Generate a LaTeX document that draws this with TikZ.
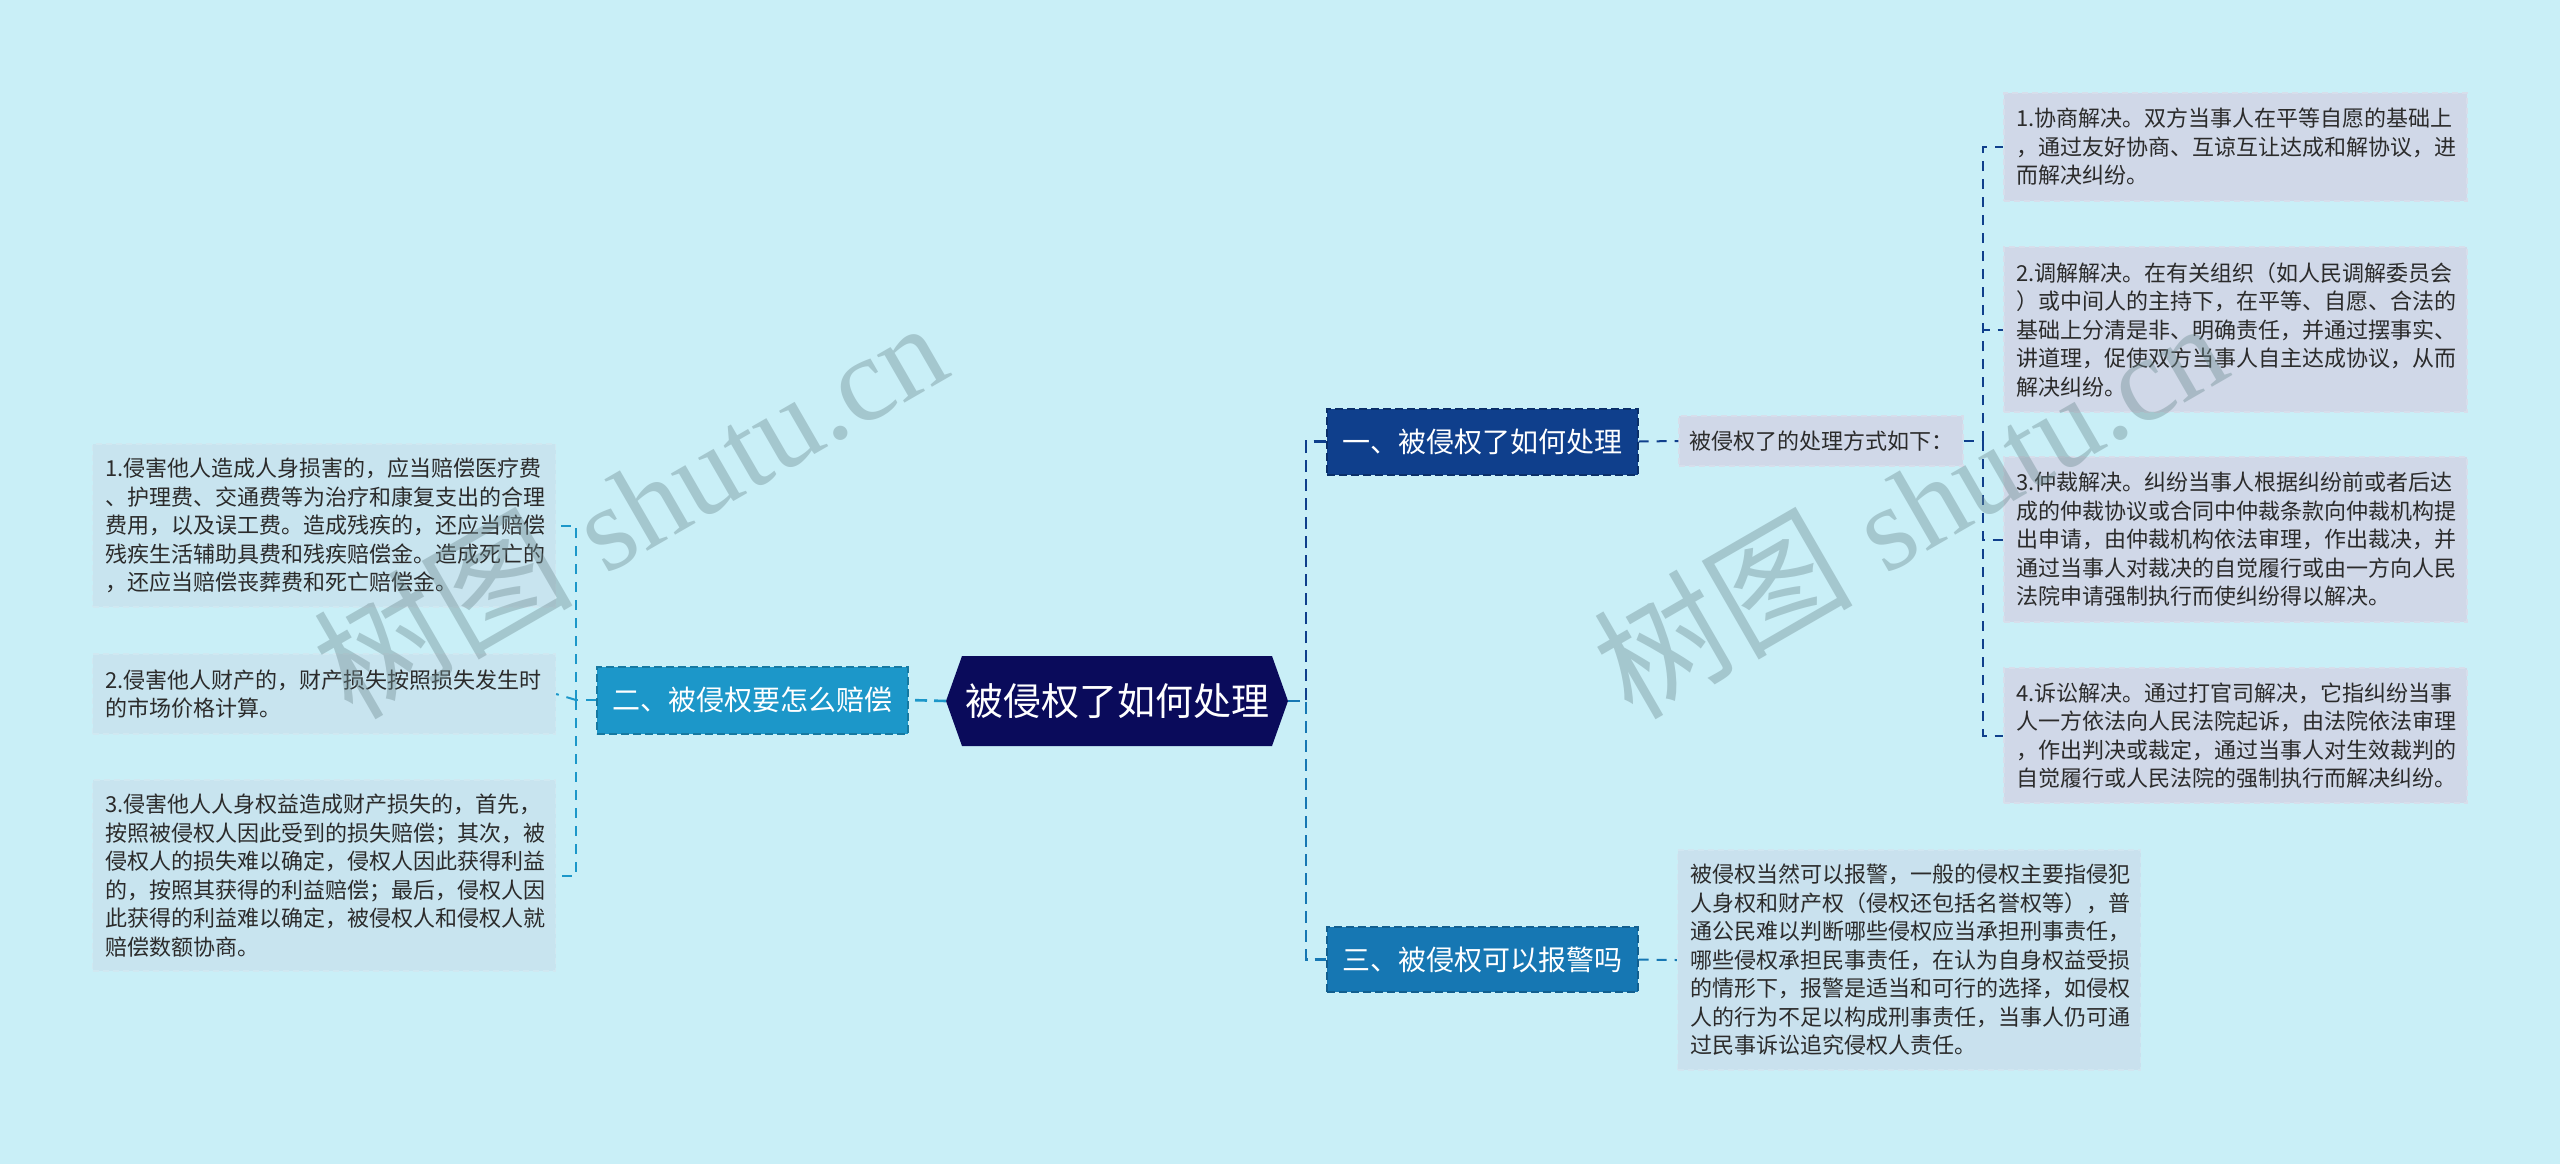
\documentclass[tikz,border=0pt]{standalone}
\usepackage{fontspec}
\setmainfont{Noto Sans CJK SC}
\newfontfamily\wmlatin{Liberation Serif}
\definecolor{bgc}{HTML}{C9EFF7}
\definecolor{rootc}{HTML}{0A0B5B}
\definecolor{cone}{HTML}{0F3F8C}
\definecolor{ctwo}{HTML}{1C97C9}
\definecolor{cthree}{HTML}{1677B3}
\definecolor{leafr}{HTML}{D0D8E8}
\definecolor{leaft}{HTML}{C9E1EE}
\definecolor{leafl}{HTML}{C8E4EF}
\definecolor{txtdark}{HTML}{2B2B2B}
\definecolor{wmc}{RGB}{110,139,145}
\begin{document}
\begin{tikzpicture}[x=0.5pt,y=-0.5pt,
  leafbox/.style={rectangle, text=txtdark, font=\fontsize{11pt}{14.25pt}\selectfont,
    align=left, text width=219pt, inner xsep=6.25pt, inner ysep=0pt,
    line width=0.6pt, dash pattern=on 3pt off 2pt},
  leafR/.style={leafbox, fill=leafr, draw=leafr!85!white},
  leafT/.style={leafbox, fill=leaft, draw=leaft!85!white},
  leafL/.style={leafbox, fill=leafl, draw=leafl!85!white},
  branch/.style={rectangle, text=white, font=\fontsize{14pt}{16pt}\selectfont,
    minimum width=155.5pt, minimum height=33pt, inner sep=0pt,
    line width=1pt, dash pattern=on 4pt off 2pt},
  conn/.style={line width=1.3pt, dash pattern=on 6pt off 3.5pt},
  lconn/.style={line width=1pt, dash pattern=on 5pt off 4pt},
  wm/.style={text=wmc, text opacity=0.4, rotate=30, anchor=base west, inner sep=0pt}
]
\fill[bgc] (0,0) rectangle (2560,1164);
\useasboundingbox (0,0) rectangle (2560,1164);

% root hexagon
\fill[rootc] (946,701) -- (962,656) -- (1272,656) -- (1288,701) -- (1272,746) -- (962,746) -- cycle;
\node[text=white, font=\fontsize{19pt}{22pt}\selectfont, inner sep=0pt] (root) at (1117,701) {被侵权了如何处理};
\coordinate (rootL) at (946,701);
\coordinate (rootR) at (1288,701);
\coordinate (jR) at (1306,701);
\coordinate (jL) at (576,700);
\coordinate (jM) at (1983,441);

% branches
\node[branch, fill=cone, draw=cone!75!black] (n1) at (1482,441.5) {一、被侵权了如何处理};
\node[branch, fill=ctwo, draw=ctwo!80!black, minimum height=33.5pt] (n2) at (752,700) {二、被侵权要怎么赔偿};
\node[branch, fill=cthree, draw=cthree!80!black, minimum height=32.5pt] (n3) at (1482,959.5) {三、被侵权可以报警吗};

% middle box
\node[rectangle, fill=leafr, draw=leafr!85!white, line width=0.6pt, dash pattern=on 3pt off 2pt,
  text=txtdark, font=\fontsize{11pt}{14.25pt}\selectfont, align=left, text width=132pt,
  inner xsep=5pt, inner ysep=0pt, minimum height=25pt] (mid) at (1821,441) {被侵权了的处理方式如下：};

% right leaves
\node[leafR, minimum height=54pt] (R1) at (2235.5,147) {1.协商解决。双方当事人在平等自愿的基础上\\，通过友好协商、互谅互让达成和解协议，进\\而解决纠纷。};
\node[leafR, minimum height=82.5pt] (R2) at (2235.5,329.5) {2.调解解决。在有关组织（如人民调解委员会\\）或中间人的主持下，在平等、自愿、合法的\\基础上分清是非、明确责任，并通过摆事实、\\讲道理，促使双方当事人自主达成协议，从而\\解决纠纷。};
\node[leafR, minimum height=82.5pt] (R3) at (2235.5,539.5) {3.仲裁解决。纠纷当事人根据纠纷前或者后达\\成的仲裁协议或合同中仲裁条款向仲裁机构提\\出申请，由仲裁机构依法审理，作出裁决，并\\通过当事人对裁决的自觉履行或由一方向人民\\法院申请强制执行而使纠纷得以解决。};
\node[leafR, minimum height=67.5pt] (R4) at (2235.5,735.5) {4.诉讼解决。通过打官司解决，它指纠纷当事\\人一方依法向人民法院起诉，由法院依法审理\\，作出判决或裁定，通过当事人对生效裁判的\\自觉履行或人民法院的强制执行而解决纠纷。};

% leaf under three
\node[leafT, minimum height=110pt] (T1) at (1909,960) {被侵权当然可以报警，一般的侵权主要指侵犯\\人身权和财产权（侵权还包括名誉权等），普\\通公民难以判断哪些侵权应当承担刑事责任，\\哪些侵权承担民事责任，在认为自身权益受损\\的情形下，报警是适当和可行的选择，如侵权\\人的行为不足以构成刑事责任，当事人仍可通\\过民事诉讼追究侵权人责任。};

% left leaves
\node[leafL, minimum height=81.5pt] (L1) at (324,525.5) {1.侵害他人造成人身损害的，应当赔偿医疗费\\、护理费、交通费等为治疗和康复支出的合理\\费用，以及误工费。造成残疾的，还应当赔偿\\残疾生活辅助具费和残疾赔偿金。造成死亡的\\，还应当赔偿丧葬费和死亡赔偿金。};
\node[leafL, minimum height=40pt] (L2) at (324,694) {2.侵害他人财产的，财产损失按照损失发生时\\的市场价格计算。};
\node[leafL, minimum height=95.5pt] (L3) at (324,875.5) {3.侵害他人人身权益造成财产损失的，首先，\\按照被侵权人因此受到的损失赔偿；其次，被\\侵权人的损失难以确定，侵权人因此获得利益\\的，按照其获得的利益赔偿；最后，侵权人因\\此获得的利益难以确定，被侵权人和侵权人就\\赔偿数额协商。};

% connectors: root to branches
\draw[conn, ctwo] (rootL) -- (n2.east);
\draw[conn, cone] (rootR) -- (jR) |- (n1.west);
\draw[conn, cthree] (rootR) -- (jR) |- (n3.west);

% left
\draw[lconn, ctwo] (n2.west) -- (jL);
\draw[lconn, ctwo] (jL) |- (L1.east);
\draw[lconn, ctwo] (jL) -- (L2.east);
\draw[lconn, ctwo] (jL) |- (L3.east);

% right
\draw[lconn, cone] (n1.east) -- (mid.west);
\draw[lconn, cone] (mid.east) -- (jM);
\draw[lconn, cone] (jM) |- (R1.west);
\draw[lconn, cone] (jM) |- (R2.west);
\draw[lconn, cone] (jM) |- (R3.west);
\draw[lconn, cone] (jM) |- (R4.west);

\draw[lconn, cthree] (n3.east) -- (T1.west);

% watermarks
\node[wm] (wm1) at (352,722) {\fontsize{65pt}{68pt}\selectfont 树图\wmlatin\fontsize{60pt}{64pt}\selectfont\hspace{16pt}shutu.cn};
\node[wm] (wm2) at (1632,722) {\fontsize{65pt}{68pt}\selectfont 树图\wmlatin\fontsize{60pt}{64pt}\selectfont\hspace{16pt}shutu.cn};
\end{tikzpicture}
\end{document}
